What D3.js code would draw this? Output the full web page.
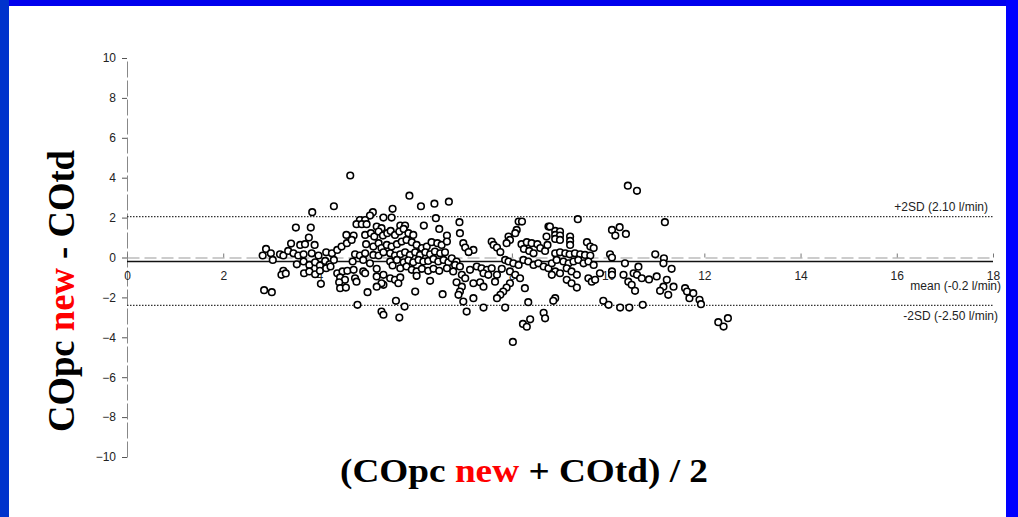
<!DOCTYPE html>
<html>
<head>
<meta charset="utf-8">
<script src="https://cdn.jsdelivr.net/npm/d3@7"></script>
<style>
  body { margin: 0; background: #fff; }
  svg { display: block; }
</style>
</head>
<body>
<svg id="chart" width="1018" height="517"></svg>
<script>
// axis ticks
var xTicks = [0, 2, 4, 6, 8, 10, 12, 14, 16, 18]
var yTicks = [-10, -8, -6, -4, -2, 0, 2, 4, 6, 8, 10]

// reference lines (l/min)
var meanDiff = -0.2
var upperLimit = 2.05
var lowerLimit = -2.4
var limitLabels = ["+2SD (2.10 l/min)", "mean (-0.2 l/min)", "-2SD (-2.50 l/min)"]

// [ (COpc new + COtd)/2 , COpc new - COtd ]
var pairs = [
  [4.64,4.11],[3.85,2.27],[4.30,2.57],[3.51,1.50],[3.82,1.50],[3.78,1.00],[4.56,1.13],[3.41,0.70],[3.60,0.63],[3.70,0.67],
  [3.90,0.63],[2.89,0.43],[2.99,0.21],[2.82,0.10],[3.03,-0.12],[3.18,0.16],[3.25,0.10],[3.35,0.33],[3.46,0.21],[3.56,0.10],
  [3.67,0.16],[3.84,0.21],[3.98,0.10],[4.14,0.26],[4.26,0.21],[4.37,0.38],[4.46,0.55],[4.57,0.72],[3.53,-0.34],[3.67,-0.20],
  [3.79,-0.37],[3.91,-0.24],[4.01,-0.40],[4.12,-0.17],[4.21,-0.34],[4.30,-0.12],[3.25,-0.67],[3.21,-0.87],[3.30,-0.80],[3.68,-0.79],
  [3.79,-0.70],[3.91,-0.84],[4.01,-0.67],[4.14,-0.54],[4.23,-0.45],[4.37,-0.79],[4.48,-0.70],[4.58,-0.67],[4.43,-1.00],[4.53,-1.12],
  [4.03,-1.32],[4.41,-1.24],[4.43,-1.54],[4.55,-1.51],[2.85,-1.64],[3.01,-1.74],
  [5.87,3.10],[6.11,2.57],[6.39,2.70],[6.69,2.80],[5.52,2.44],[5.11,2.27],[5.05,2.10],[5.33,2.00],[5.50,2.00],[6.42,1.97],
  [4.84,1.88],[4.95,1.88],[4.77,1.67],[4.88,1.67],[4.98,1.67],[5.19,1.55],[5.29,1.47],[5.68,1.60],[5.78,1.60],[6.17,1.60],
  [6.49,1.43],[6.65,1.10],[4.71,1.10],[4.67,0.88],[4.95,1.13],[5.07,1.22],[5.14,1.05],
  [5.23,1.30],[5.32,1.10],[5.41,1.22],[5.48,1.33],[5.57,1.13],[5.66,1.30],[5.75,1.43],[5.85,1.22],[5.95,1.13],
  [4.97,0.67],[5.12,0.55],[5.23,0.72],[5.29,0.47],[5.40,0.63],[5.50,0.55],[5.61,0.67],[5.71,0.80],[5.81,0.88],[5.92,0.77],
  [6.02,0.63],[6.13,0.47],[6.23,0.55],[6.33,0.77],[6.45,0.72],[6.54,0.63],[6.65,0.80],
  [4.74,0.16],[4.84,0.10],[4.95,0.21],[5.12,0.13],[5.23,0.10],[5.33,0.26],[5.47,0.21],[5.57,0.10],[5.68,0.16],[5.78,0.26],
  [5.88,0.13],[5.99,0.26],[6.09,0.13],[6.20,0.26],[6.30,0.16],[6.40,0.30],[6.51,0.21],[6.61,0.26],
  [4.69,-0.20],[4.91,-0.12],[5.05,-0.29],[5.47,-0.20],[5.61,-0.12],[5.75,-0.24],[5.85,-0.14],[5.95,-0.24],[6.06,-0.12],[6.16,-0.20],
  [6.26,-0.17],[6.37,-0.07],[6.47,-0.20],[6.58,-0.12],[6.68,-0.24],
  [4.71,-0.62],[4.91,-0.70],[5.19,-0.57],[5.52,-0.40],[5.68,-0.54],[5.81,-0.45],[5.92,-0.62],[6.02,-0.70],[6.13,-0.57],[6.26,-0.67],
  [6.37,-0.57],[6.49,-0.67],[6.65,-0.54],
  [4.74,-1.04],[4.77,-1.21],[4.95,-0.79],[5.19,-0.95],[5.33,-0.87],[5.47,-1.04],[5.57,-1.12],[5.68,-1.00],[5.33,-1.37],[5.29,-1.29],
  [5.19,-1.46],[5.64,-1.29],[6.02,-0.92],[6.30,-1.17],
  [5.00,-1.74],[5.99,-1.71],[6.56,-1.84],[4.79,-2.37],[5.59,-2.17],[5.77,-2.46],[5.29,-2.71],[5.33,-2.87],[5.66,-3.01],
  [6.91,1.77],[6.92,1.22],[8.14,1.80],[8.21,1.80],[8.10,1.38],[8.07,1.22],[7.93,1.05],[7.96,0.88],[7.89,0.72],[6.99,0.72],
  [7.03,0.50],[7.20,0.38],[7.10,0.27],[7.58,0.80],[7.62,0.63],[7.69,0.50],[7.76,0.27],
  [8.20,0.67],[8.31,0.77],[8.41,0.72],[8.53,0.67],[8.25,0.43],[8.36,0.33],[8.45,0.21],[8.59,0.47],[8.69,0.33],[8.74,0.63],
  [8.72,1.05],[8.76,1.55],
  [6.75,-0.04],[6.85,-0.20],[6.82,-0.37],[6.92,-0.45],[6.78,-0.70],[6.96,-0.87],[7.03,-1.04],[7.13,-0.62],[7.27,-0.45],[7.37,-0.54],
  [7.48,-0.62],[7.58,-0.54],[7.41,-0.79],[7.51,-0.87],[7.69,-0.87],[7.65,-1.21],[7.79,-0.57],[7.86,-0.12],[7.93,-0.20],[8.03,-0.29],
  [8.14,-0.37],[8.24,-0.12],[8.34,-0.20],[8.45,-0.37],[8.55,-0.29],[8.66,-0.45],[8.76,-0.54],[7.96,-0.70],[8.07,-0.87],[8.17,-1.04],
  [6.85,-1.24],[6.96,-1.46],[6.92,-1.71],[7.20,-1.29],[7.34,-1.24],[7.41,-1.46],[7.96,-1.29],[7.89,-1.51],[7.82,-1.71],[7.76,-1.87],
  [7.69,-2.04],[8.27,-1.54],[6.89,-1.87],
  [6.99,-2.21],[7.06,-2.71],[7.20,-2.04],[7.41,-2.51],[7.86,-2.51],[8.34,-2.24],[8.66,-2.77],[8.69,-3.05],[8.38,-3.10],[8.23,-3.33],
  [8.31,-3.47],[8.02,-4.23],
  [10.41,3.60],[10.60,3.34],[9.37,1.92],[10.08,1.38],[10.24,1.52],[10.15,1.10],[10.37,1.18],
  [8.90,1.33],[9.00,1.30],[8.90,1.13],[9.00,1.10],[8.90,0.93],[9.00,0.88],[9.21,1.05],[9.21,0.83],[9.21,0.63],[9.56,0.77],
  [9.63,0.55],[9.70,0.47],[8.79,1.55],[10.04,0.16],[10.08,0.00],
  [8.90,0.21],[9.00,0.26],[9.11,0.21],[9.20,0.16],[9.31,0.21],[9.42,0.16],[9.52,0.13],[9.63,0.10],
  [8.83,-0.29],[8.93,-0.12],[9.07,-0.20],[9.18,-0.29],[9.28,-0.20],[9.38,-0.12],[9.49,-0.29],[9.59,-0.20],[9.70,-0.37],
  [8.90,-0.70],[9.00,-0.79],[9.14,-0.54],[9.24,-0.70],[9.35,-0.87],[8.83,-0.87],
  [9.59,-1.04],[9.66,-1.21],[9.73,-1.12],[9.83,-0.79],[10.08,-0.70],[10.08,-0.87],[10.32,-0.87],[10.53,-0.79],[10.60,-0.87],[10.70,-1.04],
  [10.35,-0.29],[10.63,-0.46],
  [9.14,-1.12],[9.24,-1.29],[9.35,-1.51],[10.42,-1.21],[10.49,-1.37],[10.56,-1.67],
  [8.90,-2.04],[8.86,-2.17],[9.90,-2.17],[10.01,-2.37],[10.25,-2.51],[10.44,-2.51],[10.72,-2.37],
  [11.18,1.77],[10.98,0.16],[11.16,-0.04],[11.15,-0.29],[11.32,-0.57],[11.01,-0.95],[10.85,-1.10],[11.22,-1.12],[11.36,-1.46],[11.15,-1.46],
  [11.08,-1.67],[11.25,-1.87],[11.60,-1.54],[11.64,-1.71],[11.69,-2.04],[11.77,-1.79],[11.90,-2.12],[11.93,-2.34],
  [12.29,-3.24],[12.40,-3.46],[12.49,-3.04]
]

var svg = d3.select('#chart')
var width = 1018, height = 517

var x = d3.scaleLinear().domain([0, 18]).range([127, 993])
var y = d3.scaleLinear().domain([-10, 10]).range([457, 58])

// slide frame
svg.append('rect').attr('width', width).attr('height', height).attr('fill', '#fff')
svg.append('rect').attr('x', 0).attr('y', 0).attr('width', width).attr('height', 6).attr('fill', '#0000ee')
svg.append('rect').attr('x', 0).attr('y', 0).attr('width', 9).attr('height', height).attr('fill', '#0033cc')
svg.append('rect').attr('x', 1006).attr('y', 0).attr('width', 12).attr('height', height).attr('fill', '#0000ff')

var tickFont = 'Arial, "Liberation Sans", sans-serif'

// y axis
var yAxis = svg.append('g')
    .attr('transform', 'translate(' + x(0) + ',0)')
    .call(d3.axisLeft(y).tickValues(yTicks).tickSize(5).tickPadding(6).tickSizeOuter(0))
yAxis.select('.domain').attr('stroke', '#888').attr('stroke-dasharray', '16,3')
yAxis.selectAll('.tick line').attr('stroke', '#555')
yAxis.selectAll('text').attr('font-family', tickFont).attr('font-size', '12px').attr('fill', '#222')

// zero line with x ticks
var xAxis = svg.append('g')
    .attr('transform', 'translate(0,' + y(0) + ')')
    .call(d3.axisBottom(x).tickValues(xTicks).tickSize(-4).tickPadding(14).tickSizeOuter(0))
xAxis.select('.domain').attr('stroke', '#999').attr('stroke-dasharray', '12,5')
xAxis.selectAll('.tick line').attr('stroke', '#777')
xAxis.selectAll('text').attr('font-family', tickFont).attr('font-size', '12px').attr('fill', '#222')

// limits of agreement
var lines = svg.append('g')
lines.append('line')
    .attr('x1', x(0)).attr('x2', x(18))
    .attr('y1', y(upperLimit)).attr('y2', y(upperLimit))
    .attr('stroke', '#333').attr('stroke-width', 1.4).attr('stroke-dasharray', '1.5,1.5')
lines.append('line')
    .attr('x1', x(0)).attr('x2', x(18))
    .attr('y1', y(lowerLimit)).attr('y2', y(lowerLimit))
    .attr('stroke', '#333').attr('stroke-width', 1.4).attr('stroke-dasharray', '1.5,1.5')
lines.append('line')
    .attr('x1', x(0)).attr('x2', x(18))
    .attr('y1', y(meanDiff)).attr('y2', y(meanDiff))
    .attr('stroke', '#111').attr('stroke-width', 1.6)

// points
svg.append('g').selectAll('circle')
    .data(pairs)
    .enter().append('circle')
    .attr('cx', d => x(d[0]))
    .attr('cy', d => y(d[1]))
    .attr('r', 3.3)
    .attr('fill', '#fff')
    .attr('stroke', '#000')
    .attr('stroke-width', 1.6)

// line labels
var labelG = svg.append('g')
    .attr('font-family', tickFont).attr('font-size', '12px').attr('fill', '#222')
    .attr('text-anchor', 'end')
labelG.append('text').attr('x', 988).attr('y', y(upperLimit) - 6).text(limitLabels[0])
labelG.append('text').attr('x', 1001).attr('y', y(meanDiff) + 29).text(limitLabels[1])
labelG.append('text').attr('x', 998).attr('y', y(lowerLimit) + 15).text(limitLabels[2])

// axis titles
var xTitle = svg.append('text')
    .attr('x', 524).attr('y', 482)
    .attr('text-anchor', 'middle')
    .attr('font-family', '"Times New Roman", "Liberation Serif", serif')
    .attr('font-weight', 'bold')
    .attr('font-size', '34px')
    .attr('textLength', 368)
    .attr('lengthAdjust', 'spacingAndGlyphs')
xTitle.append('tspan').attr('fill', '#000').text('(COpc ')
xTitle.append('tspan').attr('fill', '#ff0000').text('new')
xTitle.append('tspan').attr('fill', '#000').text(' + COtd) / 2')

var yTitle = svg.append('text')
    .attr('transform', 'translate(74,291) rotate(-90)')
    .attr('text-anchor', 'middle')
    .attr('font-family', '"Times New Roman", "Liberation Serif", serif')
    .attr('font-weight', 'bold')
    .attr('font-size', '37px')
    .attr('textLength', 282)
    .attr('lengthAdjust', 'spacingAndGlyphs')
yTitle.append('tspan').attr('fill', '#000').text('COpc ')
yTitle.append('tspan').attr('fill', '#ff0000').text('new')
yTitle.append('tspan').attr('fill', '#000').text(' - COtd')
</script>
</body>
</html>
